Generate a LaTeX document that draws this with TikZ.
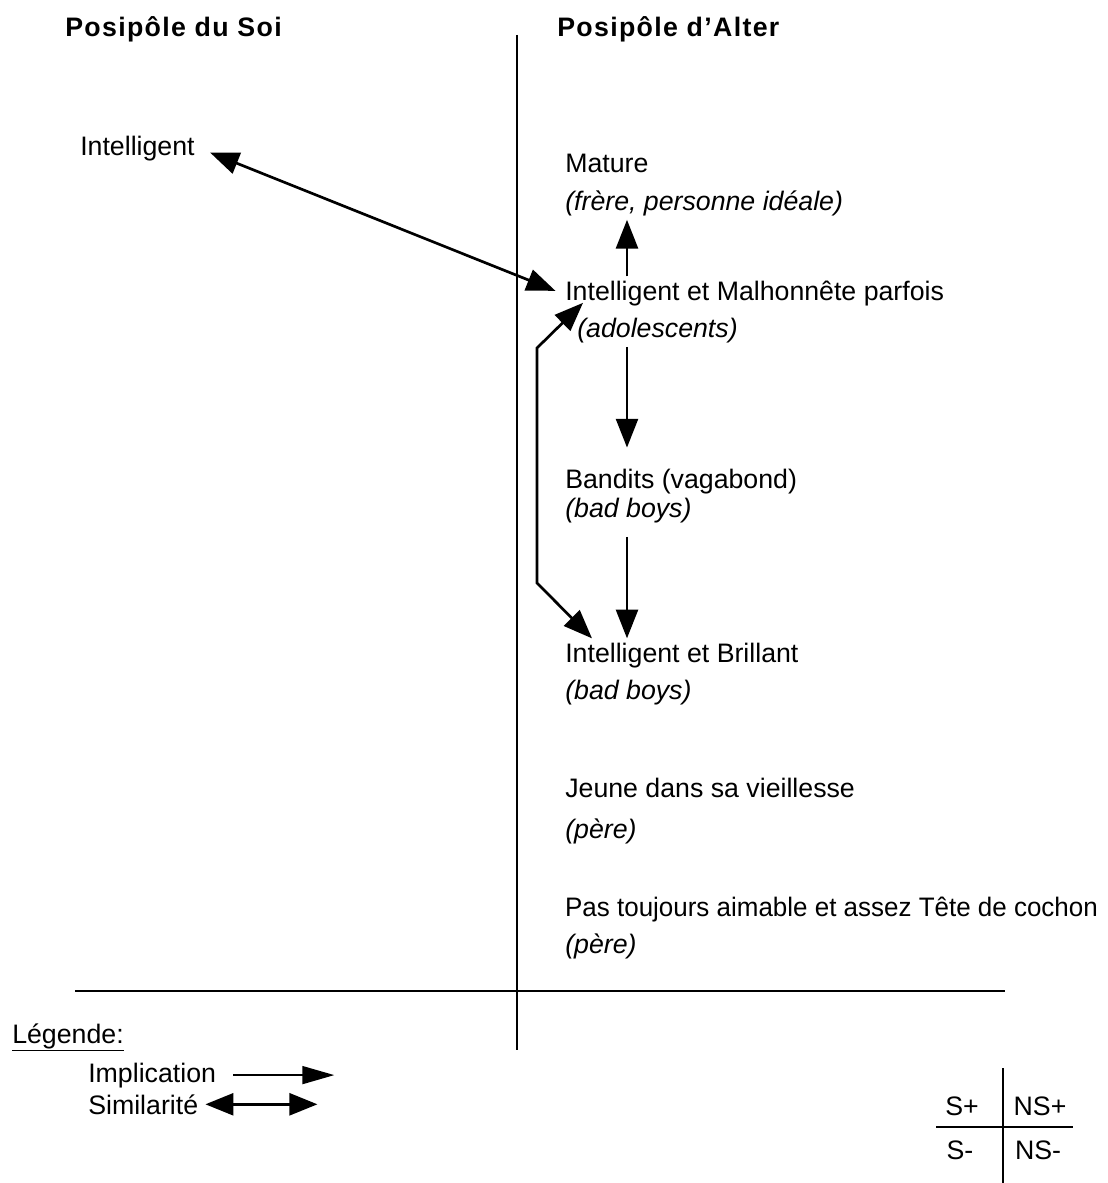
\documentclass[tikz,border=0pt]{standalone}
\usepackage{fontspec}
\setmainfont{Liberation Sans}
\newfontfamily\headfont[LetterSpace=5]{Liberation Sans}
\usetikzlibrary{arrows.meta, calc}

\begin{document}
\begin{tikzpicture}[x=0.025cm, y=-0.025cm,
    lbl/.style={anchor=base west, inner sep=0.1cm, font=\fontsize{19}{22}\selectfont},
    sub/.style={lbl, font=\fontsize{19}{22}\selectfont\itshape},
    head/.style={lbl, font=\fontsize{19}{22}\selectfont\headfont\bfseries},
    sign/.style={lbl, anchor=base},
    axis/.style={line width=1.4pt},
    impl/.style={-{Triangle[length=0.72cm, width=0.55cm]}, line width=1.9pt},
    simi/.style={{Triangle[length=0.72cm, width=0.55cm]}-{Triangle[length=0.72cm, width=0.55cm]}, line width=1.9pt},
    implleg/.style={-{Triangle[length=0.8cm, width=0.45cm]}, line width=1.2pt},
    simileg/.style={{Triangle[length=0.7cm, width=0.55cm]}-{Triangle[length=0.7cm, width=0.55cm]}, line width=1.8pt}]
    % Coordinates: (x, y) in pixels of the page, y grows downwards
    %   page 1107 x 1183
    %   middle axis x=517, from y=35 to y=1050; base axis y=991
    %   column of arrows at x=627
    \useasboundingbox (0,0) rectangle (1107,1183);
    \node[head] (soihead) at (61,37) {Posipôle du Soi};
    \node[head] (alterhead) at (553,37) {Posipôle d’Alter};
    \draw[axis] (517,35) -- (517,1050);
    \draw[axis] (75,991) -- (1005,991);

    \node[lbl] (soi) at (76,155) {Intelligent};
    \node[lbl] (mat) at (561,172) {Mature};
    \node[sub] (matsub) at (561,210) {(frère, personne idéale)};
    \node[lbl] (malh) at (561,300) {Intelligent et Malhonnête parfois};
    \node[sub] (malhsub) at (573,337) {(adolescents)};
    \node[lbl] (band) at (561,488) {Bandits (vagabond)};
    \node[sub] (bandsub) at (561,517) {(bad boys)};
    \node[lbl] (brill) at (561,662) {Intelligent et Brillant};
    \node[sub] (brillsub) at (561,699) {(bad boys)};
    \node[lbl] (jeune) at (561,797) {Jeune dans sa vieillesse};
    \node[sub] (jeunesub) at (561,838) {(père)};
    \node[lbl, xscale=0.972] (pas) at (561,916) {Pas toujours aimable et assez Tête de cochon};
    \node[sub] (passub) at (561,953) {(père)};

    \coordinate (col) at (627,0);
    \coordinate (bendT) at (537,348);
    \coordinate (bendB) at (537,583);
    \draw[simi, shorten <=0.3cm, shorten >=0.15cm] (soi.east) -- (malh.west);
    \draw[impl] (malh.north -| col) -- (matsub.south -| col);
    \draw[impl, shorten >=0.42cm] (malhsub.south -| col) -- (band.north -| col);
    \draw[impl, shorten <=0.25cm] (bandsub.south -| col) -- (brill.north -| col);
    \draw[simi] ($(malh.south west)+(22,-7)$) -- (bendT) -- (bendB)
      -- ($(brill.north west)+(31,0)$);

    % legend
    \node[lbl] (leg) at (8,1043) {\underline{Légende:}};
    \node[lbl] (implic) at (84,1082) {Implication};
    \node[lbl] (simil) at (84,1114) {Similarité};
    \draw[implleg] ($(implic.east)+(13,0)$) -- ($(implic.east)+(114,0)$);
    \draw[simileg] ($(simil.east)+(3,0)$) -- ($(simil.east)+(115,0)$);

    % signs
    \node[sign] (splus) at (962,1115) {S+};
    \node[sign] (nsplus) at (1040,1115) {NS+};
    \node[sign] (sminus) at (960,1159) {S-};
    \node[sign] (nsminus) at (1038,1159) {NS-};
    \draw[axis] (1003,1068) -- (1003,1183);
    \draw[axis] (936,1127) -- (1073,1127);
  \end{tikzpicture}
\end{document}
